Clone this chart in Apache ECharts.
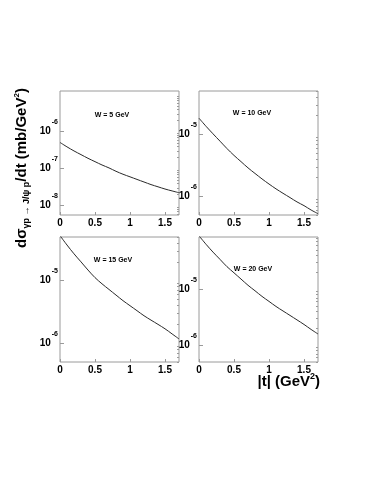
<!DOCTYPE html>
<html>
<head>
<meta charset="utf-8">
<script src="https://cdn.jsdelivr.net/npm/echarts@6.0.0/dist/echarts.min.js"></script>
<style>
  html, body { margin: 0; padding: 0; background: #fff; }
  #main { width: 374px; height: 484px; }
</style>
</head>
<body>
<div id="main"></div>
<script>
// |t| grid of the curves (GeV^2)
const tValues = [0, 0.1, 0.2, 0.3, 0.4, 0.5, 0.6, 0.7, 0.8, 0.9, 1.0, 1.1, 1.2, 1.3, 1.4, 1.5, 1.6, 1.7];
// dsigma/dt (mb/GeV^2)
const sigmaW5 = [5.13e-7, 3.89e-7, 3.02e-7, 2.40e-7, 1.91e-7, 1.55e-7, 1.26e-7, 1.05e-7, 8.51e-8, 7.08e-8, 6.03e-8, 5.13e-8, 4.37e-8, 3.72e-8, 3.24e-8, 2.82e-8, 2.51e-8, 2.24e-8];
const sigmaW10 = [1.82e-5, 1.35e-5, 1.02e-5, 7.76e-6, 5.89e-6, 4.57e-6, 3.63e-6, 2.88e-6, 2.34e-6, 1.91e-6, 1.58e-6, 1.32e-6, 1.12e-6, 9.55e-7, 8.13e-7, 7.08e-7, 6.03e-7, 5.25e-7];
const sigmaW15 = [5.25e-5, 3.72e-5, 2.69e-5, 2.00e-5, 1.48e-5, 1.12e-5, 8.91e-6, 7.24e-6, 5.89e-6, 4.79e-6, 3.98e-6, 3.31e-6, 2.75e-6, 2.34e-6, 2.00e-6, 1.70e-6, 1.41e-6, 1.17e-6];
const sigmaW20 = [8.91e-5, 6.31e-5, 4.57e-5, 3.39e-5, 2.51e-5, 1.95e-5, 1.51e-5, 1.17e-5, 9.33e-6, 7.41e-6, 6.03e-6, 4.90e-6, 4.07e-6, 3.39e-6, 2.82e-6, 2.34e-6, 1.91e-6, 1.58e-6];

const panelLabels = ['W = 5 GeV', 'W = 10 GeV', 'W = 15 GeV', 'W = 20 GeV'];
const xTicks = [0, 0.5, 1, 1.5];
// exponents of the labelled decades in each panel
const yExponents = [[-8, -7, -6], [-6, -5], [-6, -5], [-6, -5]];

const FONT = 'Liberation Sans, Arial, sans-serif';

const panels = [
  { data: sigmaW5,  ymin: 5.6e-9, ymax: 1.26e-5, grid: { left: 60,  top: 91,  width: 119, height: 124 }, tx: 112, ty: 115 },
  { data: sigmaW10, ymin: 5e-7,   ymax: 5e-5,    grid: { left: 199, top: 91,  width: 119, height: 124 }, tx: 252, ty: 113 },
  { data: sigmaW15, ymin: 5e-7,   ymax: 5e-5,    grid: { left: 60,  top: 237, width: 119, height: 125 }, tx: 113, ty: 260 },
  { data: sigmaW20, ymin: 5e-7,   ymax: 8.5e-5,  grid: { left: 199, top: 237, width: 119, height: 125 }, tx: 253, ty: 269 }
];

// minor tick values 2..9 x 10^e inside the range
function minorValues (min, max) {
  const out = [];
  for (let e = Math.floor(Math.log10(min)); e <= Math.ceil(Math.log10(max)); e++) {
    for (let k = 2; k <= 9; k++) {
      const v = k * Math.pow(10, e);
      if (v >= min && v <= max) out.push(v);
    }
  }
  return out;
}

const grids = [], xAxes = [], yAxes = [], series = [], graphics = [];

panels.forEach((p, i) => {
  grids.push(Object.assign({ show: true, borderColor: '#9a9a9a', borderWidth: 1, backgroundColor: 'transparent' }, p.grid));
  xAxes.push({
    type: 'value', gridIndex: i, min: 0, max: 1.7,
    axisLine: { show: false },
    splitLine: { show: false },
    axisTick: { inside: true, length: 3, customValues: xTicks, lineStyle: { color: '#9a9a9a' } },
    axisLabel: { customValues: xTicks, margin: 3, fontSize: 10, fontWeight: 'bold', color: '#000', fontFamily: FONT }
  });
  const majors = yExponents[i].map(e => Math.pow(10, e));
  yAxes.push({
    type: 'log', logBase: 10, gridIndex: i, min: p.ymin, max: p.ymax,
    axisLine: { show: false },
    splitLine: { show: false },
    axisTick: { inside: true, length: 4, customValues: majors, lineStyle: { color: '#9a9a9a' } },
    axisLabel: {
      customValues: majors, margin: 2, color: '#000', fontFamily: FONT,
      formatter: v => '{b|10}{s|' + Math.round(Math.log10(v)) + '}',
      rich: {
        b: { fontSize: 10, fontWeight: 'bold', fontFamily: FONT, lineHeight: 26, verticalAlign: 'middle' },
        s: { fontSize: 7, fontWeight: 'bold', fontFamily: FONT, lineHeight: 7, verticalAlign: 'top', padding: [0, 0, 0, 1] }
      }
    }
  });
  yAxes.push({
    type: 'log', logBase: 10, gridIndex: i, min: p.ymin, max: p.ymax,
    axisLine: { show: false },
    splitLine: { show: false },
    axisLabel: { show: false },
    axisTick: { inside: true, length: 2, customValues: minorValues(p.ymin, p.ymax), lineStyle: { color: '#9a9a9a' } }
  });
  series.push({
    type: 'line', xAxisIndex: i, yAxisIndex: i * 2,
    data: tValues.map((t, j) => [t, p.data[j]]),
    showSymbol: false, smooth: 0.3, clip: true,
    lineStyle: { color: '#2a2a2a', width: 1 }
  });
  graphics.push({
    type: 'text', x: p.tx, y: p.ty,
    style: { text: panelLabels[i], fill: '#000', font: 'bold 7px ' + FONT, textAlign: 'center', textVerticalAlign: 'middle' }
  });
});

// axis titles
graphics.push({
  type: 'text', x: 22, y: 168, rotation: Math.PI / 2,
  style: {
    text: '{a|dσ}{sub|γp → J/ψ p}{a|/dt (mb/GeV}{sup|2}{a|)}',
    fill: '#000', textAlign: 'center', textVerticalAlign: 'middle',
    rich: {
      a: { fontSize: 15, fontWeight: 'bold', fontFamily: FONT, lineHeight: 18, verticalAlign: 'middle' },
      sub: { fontSize: 9, fontWeight: 'bold', fontFamily: FONT, lineHeight: 9, verticalAlign: 'bottom' },
      sup: { fontSize: 8, fontWeight: 'bold', fontFamily: FONT, lineHeight: 8, verticalAlign: 'top' }
    }
  }
});
graphics.push({
  type: 'text', x: 320, y: 382,
  style: {
    text: '{a||t| (GeV}{sup|2}{a|)}',
    fill: '#000', textAlign: 'right', textVerticalAlign: 'middle',
    rich: {
      a: { fontSize: 15, fontWeight: 'bold', fontFamily: FONT, lineHeight: 20, verticalAlign: 'middle' },
      sup: { fontSize: 9, fontWeight: 'bold', fontFamily: FONT, lineHeight: 9, verticalAlign: 'top' }
    }
  }
});

const chart = echarts.init(document.getElementById('main'));
chart.setOption({
  backgroundColor: '#fff',
  animation: false,
  grid: grids,
  xAxis: xAxes,
  yAxis: yAxes,
  series: series,
  graphic: graphics
});
</script>
</body>
</html>
